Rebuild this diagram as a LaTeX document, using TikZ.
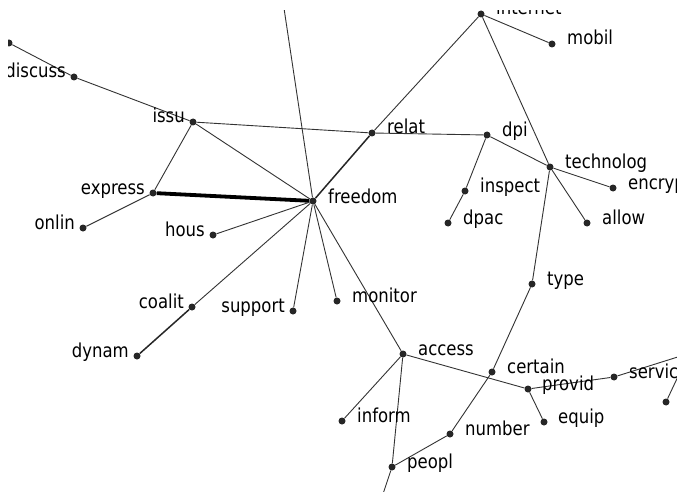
\documentclass[tikz,border=0pt]{standalone}
\usepackage{fontspec}
\setmainfont{DejaVu Sans}[FakeStretch=0.86]
\begin{document}
\begin{tikzpicture}[x=1pt,y=-1pt,
  dot/.style={circle,fill=black!85,inner sep=0pt,minimum size=7pt},
  edge/.style={draw=black!80,line width=0.9pt},
  medge/.style={draw=black!85,line width=1.5pt},
  tedge/.style={draw=black,line width=3.8pt},
  lblR/.style={anchor=base west,inner sep=0pt,font=\fontsize{19.2}{21}\selectfont,text=black},
  lblL/.style={anchor=base east,inner sep=0pt,font=\fontsize{19.2}{21}\selectfont,text=black}]
\useasboundingbox[fill=white] (0,0) rectangle (677,492);
\begin{scope}
\clip (8,11) rectangle (677,492);
% dots
\node[dot] (edgeL) at (9,43) {};
\node[dot] (discuss) at (74,77) {};
\node[dot] (issu) at (193,122) {};
\node[dot] (express) at (153,193) {};
\node[dot] (freedom) at (313,201) {};
\node[dot] (onlin) at (83,228) {};
\node[dot] (hous) at (213,235) {};
\node[dot] (internet) at (481,14) {};
\node[dot] (mobil) at (552,44) {};
\node[dot] (relat) at (372,133) {};
\node[dot] (dpi) at (487,135) {};
\node[dot] (technolog) at (550,167) {};
\node[dot] (encryp) at (613,188) {};
\node[dot] (inspect) at (465,191) {};
\node[dot] (dpac) at (448,223) {};
\node[dot] (allow) at (587,223) {};
\node[dot] (coalit) at (192,307) {};
\node[dot] (support) at (293,311) {};
\node[dot] (dynam) at (137,356) {};
\node[dot] (monitor) at (337,301) {};
\node[dot] (type) at (532,284) {};
\node[dot] (access) at (403,354) {};
\node[dot] (certain) at (492,372) {};
\node[dot] (provid) at (528,389) {};
\node[dot] (servic) at (614,377) {};
\node[dot] (extra) at (666,402) {};
\node[dot] (inform) at (342,421) {};
\node[dot] (equip) at (544,422) {};
\node[dot] (number) at (450,434) {};
\node[dot] (peopl) at (392,467) {};
% free ends
\coordinate (topend) at (282,-5);
\coordinate (botend) at (381,500);
\coordinate (servend) at (700,350);
\coordinate (extraend) at (690,351);
% edges
\draw[edge] (edgeL) -- (discuss);
\draw[edge] (discuss) -- (issu);
\draw[edge] (issu) -- (relat);
\draw[edge] (issu) -- (freedom);
\draw[edge] (issu) -- (express);
\draw[tedge] (express) -- (freedom);
\draw[edge] (express) -- (onlin);
\draw[edge] (hous) -- (freedom);
\draw[edge] (topend) -- (freedom);
\draw[medge] (freedom) -- (relat);
\draw[edge] (relat) -- (internet);
\draw[edge] (relat) -- (dpi);
\draw[edge] (dpi) -- (technolog);
\draw[edge] (dpi) -- (inspect);
\draw[edge] (inspect) -- (dpac);
\draw[edge] (internet) -- (technolog);
\draw[edge] (internet) -- (mobil);
\draw[edge] (technolog) -- (encryp);
\draw[edge] (technolog) -- (allow);
\draw[edge] (technolog) -- (type);
\draw[edge] (type) -- (certain);
\draw[edge] (certain) -- (number);
\draw[edge] (number) -- (peopl);
\draw[edge] (access) -- (peopl);
\draw[edge] (peopl) -- (botend);
\draw[edge] (access) -- (inform);
\draw[edge] (access) -- (provid);
\draw[edge] (provid) -- (servic);
\draw[edge] (provid) -- (equip);
\draw[edge] (servic) -- (servend);
\draw[edge] (extra) -- (extraend);
\draw[edge] (freedom) -- (access);
\draw[edge] (freedom) -- (monitor);
\draw[edge] (freedom) -- (support);
\draw[edge] (freedom) -- (coalit);
\draw[medge] (coalit) -- (dynam);
% labels
\node[lblL] (discussT) at ([xshift=-8pt,yshift=-1pt]discuss.center) {discuss};
\node[lblL] (issuT) at ([xshift=-8pt,yshift=-1pt]issu.center) {issu};
\node[lblL] (expressT) at ([xshift=-8pt,yshift=-1pt]express.center) {express};
\node[lblL] (onlinT) at ([xshift=-8pt,yshift=-1pt]onlin.center) {onlin};
\node[lblL] (housT) at ([xshift=-8pt,yshift=-1pt]hous.center) {hous};
\node[lblL] (coalitT) at ([xshift=-8pt,yshift=-1pt]coalit.center) {coalit};
\node[lblL] (supportT) at ([xshift=-8pt,yshift=-1pt]support.center) {support};
\node[lblL] (dynamT) at ([xshift=-8pt,yshift=-1pt]dynam.center) {dynam};
\node[lblR] (freedomT) at ([xshift=15pt,yshift=-2pt]freedom.center) {freedom};
\node[lblR] (internetT) at ([xshift=15pt,yshift=-1pt]internet.center) {internet};
\node[lblR] (mobilT) at ([xshift=15pt,yshift=-1pt]mobil.center) {mobil};
\node[lblR] (relatT) at ([xshift=15pt,yshift=-1pt]relat.center) {relat};
\node[lblR] (dpiT) at ([xshift=15pt,yshift=-1pt]dpi.center) {dpi};
\node[lblR] (technologT) at ([xshift=15pt,yshift=-1pt]technolog.center) {technolog};
\node[lblR] (encrypT) at ([xshift=15pt,yshift=-1pt]encryp.center) {encryp};
\node[lblR] (inspectT) at ([xshift=15pt,yshift=-1pt]inspect.center) {inspect};
\node[lblR] (dpacT) at ([xshift=15pt,yshift=-1pt]dpac.center) {dpac};
\node[lblR] (allowT) at ([xshift=15pt,yshift=-1pt]allow.center) {allow};
\node[lblR] (monitorT) at ([xshift=15pt,yshift=-1pt]monitor.center) {monitor};
\node[lblR] (typeT) at ([xshift=15pt,yshift=-1pt]type.center) {type};
\node[lblR] (accessT) at ([xshift=15pt,yshift=-1pt]access.center) {access};
\node[lblR] (certainT) at ([xshift=15pt,yshift=-1pt]certain.center) {certain};
\node[lblR] (providT) at ([xshift=14pt,yshift=-1pt]provid.center) {provid};
\node[lblR] (servicT) at ([xshift=15pt,yshift=-1pt]servic.center) {servic};
\node[lblR] (informT) at ([xshift=15pt,yshift=-1pt]inform.center) {inform};
\node[lblR] (equipT) at ([xshift=14pt,yshift=-1pt]equip.center) {equip};
\node[lblR] (numberT) at ([xshift=15pt,yshift=-1pt]number.center) {number};
\node[lblR] (peoplT) at ([xshift=15pt,yshift=-1pt]peopl.center) {peopl};
\end{scope}
\end{tikzpicture}
\end{document}
